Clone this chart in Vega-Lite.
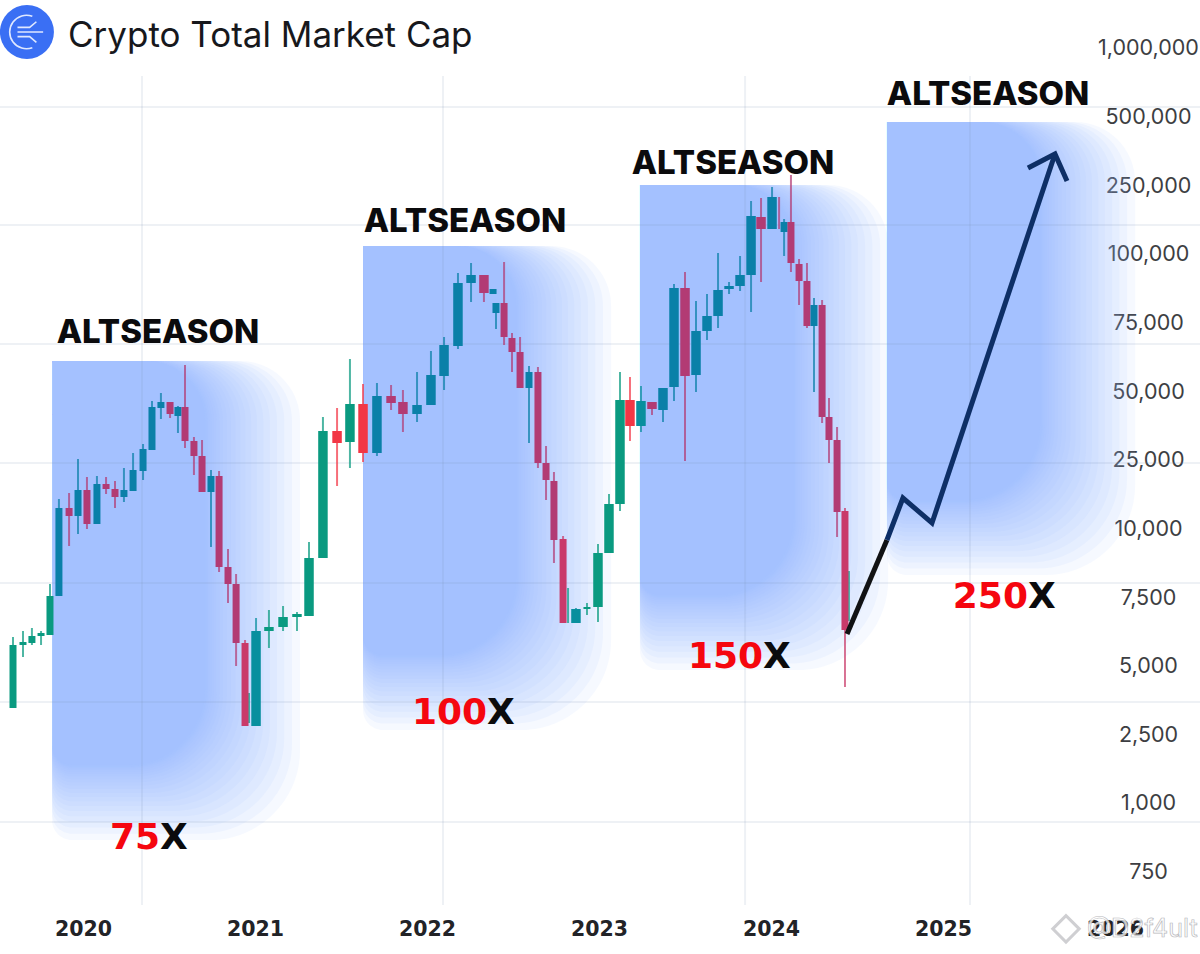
{
  "$schema": "https://vega.github.io/schema/vega-lite/v6.json",
  "width": 1148,
  "height": 905,
  "autosize": "none",
  "padding": {"left": 0, "top": 0, "right": 52, "bottom": 49},
  "background": "#ffffff",
  "config": {"view": {"stroke": null}},
  "title": {
    "text": "Crypto Total Market Cap",
    "anchor": "start",
    "frame": "group",
    "dx": 68,
    "offset": -54,
    "font": "Inter",
    "fontSize": 35,
    "fontWeight": 400,
    "color": "#17181c"
  },
  "datasets": {
    "shade": [
      {"t": 2019.82, "t2": 2021.262, "value": 61240, "value2": 866},
      {"t": 2019.82, "t2": 2021.215, "value": 61240, "value2": 889},
      {"t": 2019.82, "t2": 2021.17, "value": 61240, "value2": 911},
      {"t": 2019.82, "t2": 2021.128, "value": 61240, "value2": 932},
      {"t": 2019.82, "t2": 2021.086, "value": 61240, "value2": 952},
      {"t": 2019.82, "t2": 2021.048, "value": 61240, "value2": 971},
      {"t": 2019.82, "t2": 2021.011, "value": 61240, "value2": 989},
      {"t": 2019.82, "t2": 2020.977, "value": 61240, "value2": 1037},
      {"t": 2019.82, "t2": 2020.944, "value": 61240, "value2": 1134},
      {"t": 2019.82, "t2": 2020.915, "value": 61240, "value2": 1225},
      {"t": 2019.82, "t2": 2020.886, "value": 61240, "value2": 1309},
      {"t": 2019.82, "t2": 2020.86, "value": 61240, "value2": 1388},
      {"t": 2019.82, "t2": 2020.836, "value": 61240, "value2": 1459},
      {"t": 2019.82, "t2": 2020.814, "value": 61240, "value2": 1525},
      {"t": 2019.82, "t2": 2020.794, "value": 61240, "value2": 1585},
      {"t": 2019.82, "t2": 2020.777, "value": 61240, "value2": 1637},
      {"t": 2019.82, "t2": 2020.761, "value": 61240, "value2": 1686},
      {"t": 2019.82, "t2": 2020.747, "value": 61240, "value2": 1726},
      {"t": 2019.82, "t2": 2020.736, "value": 61240, "value2": 1761},
      {"t": 2019.82, "t2": 2020.726, "value": 61240, "value2": 1787},
      {"t": 2019.82, "t2": 2020.719, "value": 61240, "value2": 1810},
      {"t": 2019.82, "t2": 2020.71, "value": 61240, "value2": 1838},
      {"t": 2021.628, "t2": 2023.07, "value": 117640, "value2": 2681},
      {"t": 2021.628, "t2": 2023.023, "value": 117640, "value2": 2913},
      {"t": 2021.628, "t2": 2022.978, "value": 117640, "value2": 3131},
      {"t": 2021.628, "t2": 2022.936, "value": 117640, "value2": 3341},
      {"t": 2021.628, "t2": 2022.894, "value": 117640, "value2": 3544},
      {"t": 2021.628, "t2": 2022.856, "value": 117640, "value2": 3732},
      {"t": 2021.628, "t2": 2022.819, "value": 117640, "value2": 3913},
      {"t": 2021.628, "t2": 2022.785, "value": 117640, "value2": 4083},
      {"t": 2021.628, "t2": 2022.752, "value": 117640, "value2": 4243},
      {"t": 2021.628, "t2": 2022.723, "value": 117640, "value2": 4391},
      {"t": 2021.628, "t2": 2022.694, "value": 117640, "value2": 4529},
      {"t": 2021.628, "t2": 2022.668, "value": 117640, "value2": 4659},
      {"t": 2021.628, "t2": 2022.644, "value": 117640, "value2": 4775},
      {"t": 2021.628, "t2": 2022.622, "value": 117640, "value2": 4884},
      {"t": 2021.628, "t2": 2022.602, "value": 117640, "value2": 4982},
      {"t": 2021.628, "t2": 2022.585, "value": 117640, "value2": 5070},
      {"t": 2021.628, "t2": 2022.569, "value": 117640, "value2": 5151},
      {"t": 2021.628, "t2": 2022.555, "value": 117640, "value2": 5217},
      {"t": 2021.628, "t2": 2022.544, "value": 117640, "value2": 5276},
      {"t": 2021.628, "t2": 2022.534, "value": 117640, "value2": 5320},
      {"t": 2021.628, "t2": 2022.527, "value": 117640, "value2": 5357},
      {"t": 2021.628, "t2": 2022.518, "value": 117640, "value2": 5404},
      {"t": 2023.238, "t2": 2024.681, "value": 253600, "value2": 4855},
      {"t": 2023.238, "t2": 2024.634, "value": 253600, "value2": 5088},
      {"t": 2023.238, "t2": 2024.589, "value": 253600, "value2": 5309},
      {"t": 2023.238, "t2": 2024.547, "value": 253600, "value2": 5522},
      {"t": 2023.238, "t2": 2024.505, "value": 253600, "value2": 5728},
      {"t": 2023.238, "t2": 2024.467, "value": 253600, "value2": 5919},
      {"t": 2023.238, "t2": 2024.43, "value": 253600, "value2": 6103},
      {"t": 2023.238, "t2": 2024.396, "value": 253600, "value2": 6276},
      {"t": 2023.238, "t2": 2024.363, "value": 253600, "value2": 6438},
      {"t": 2023.238, "t2": 2024.334, "value": 253600, "value2": 6588},
      {"t": 2023.238, "t2": 2024.305, "value": 253600, "value2": 6728},
      {"t": 2023.238, "t2": 2024.279, "value": 253600, "value2": 6860},
      {"t": 2023.238, "t2": 2024.255, "value": 253600, "value2": 6978},
      {"t": 2023.238, "t2": 2024.233, "value": 253600, "value2": 7088},
      {"t": 2023.238, "t2": 2024.213, "value": 253600, "value2": 7188},
      {"t": 2023.238, "t2": 2024.196, "value": 253600, "value2": 7276},
      {"t": 2023.238, "t2": 2024.18, "value": 253600, "value2": 7357},
      {"t": 2023.238, "t2": 2024.166, "value": 253600, "value2": 7423},
      {"t": 2023.238, "t2": 2024.155, "value": 253600, "value2": 7482},
      {"t": 2023.238, "t2": 2024.145, "value": 253600, "value2": 7525},
      {"t": 2023.238, "t2": 2024.138, "value": 253600, "value2": 7562},
      {"t": 2023.238, "t2": 2024.129, "value": 253600, "value2": 7609},
      {"t": 2024.674, "t2": 2026.117, "value": 481900, "value2": 8333},
      {"t": 2024.674, "t2": 2026.07, "value": 481900, "value2": 8565},
      {"t": 2024.674, "t2": 2026.025, "value": 481900, "value2": 8783},
      {"t": 2024.674, "t2": 2025.983, "value": 481900, "value2": 8993},
      {"t": 2024.674, "t2": 2025.941, "value": 481900, "value2": 9196},
      {"t": 2024.674, "t2": 2025.903, "value": 481900, "value2": 9384},
      {"t": 2024.674, "t2": 2025.866, "value": 481900, "value2": 9565},
      {"t": 2024.674, "t2": 2025.832, "value": 481900, "value2": 9736},
      {"t": 2024.674, "t2": 2025.799, "value": 481900, "value2": 9895},
      {"t": 2024.674, "t2": 2025.77, "value": 481900, "value2": 10261},
      {"t": 2024.674, "t2": 2025.741, "value": 481900, "value2": 11086},
      {"t": 2024.674, "t2": 2025.715, "value": 481900, "value2": 11869},
      {"t": 2024.674, "t2": 2025.691, "value": 481900, "value2": 12565},
      {"t": 2024.674, "t2": 2025.669, "value": 481900, "value2": 13217},
      {"t": 2024.674, "t2": 2025.649, "value": 481900, "value2": 13804},
      {"t": 2024.674, "t2": 2025.632, "value": 481900, "value2": 14326},
      {"t": 2024.674, "t2": 2025.616, "value": 481900, "value2": 14804},
      {"t": 2024.674, "t2": 2025.602, "value": 481900, "value2": 15195},
      {"t": 2024.674, "t2": 2025.591, "value": 481900, "value2": 15543},
      {"t": 2024.674, "t2": 2025.581, "value": 481900, "value2": 15804},
      {"t": 2024.674, "t2": 2025.574, "value": 481900, "value2": 16021},
      {"t": 2024.674, "t2": 2025.565, "value": 481900, "value2": 16304}
    ],
    "gridH": [
      {"t": 2019.5174, "t2": 2026.495, "value": 572000},
      {"t": 2019.5174, "t2": 2026.495, "value": 164000},
      {"t": 2019.5174, "t2": 2026.495, "value": 67400},
      {"t": 2019.5174, "t2": 2026.495, "value": 24350},
      {"t": 2019.5174, "t2": 2026.495, "value": 8045},
      {"t": 2019.5174, "t2": 2026.495, "value": 3700},
      {"t": 2019.5174, "t2": 2026.495, "value": 931}
    ],
    "gridV": [
      {"t": 2020.343, "value": 649, "value2": 797000},
      {"t": 2022.093, "value": 649, "value2": 797000},
      {"t": 2023.849, "value": 649, "value2": 797000},
      {"t": 2025.157, "value": 649, "value2": 797000}
    ],
    "candles": [
      {"t": 2019.593, "open": 3478, "high": 6066, "low": 3478, "close": 5772, "tone": "green", "w": 7},
      {"t": 2019.651, "open": 5772, "high": 6287, "low": 5331, "close": 5883, "tone": "green", "w": 7},
      {"t": 2019.703, "open": 5846, "high": 6397, "low": 5772, "close": 6103, "tone": "green", "w": 7},
      {"t": 2019.756, "open": 6103, "high": 6287, "low": 5772, "close": 6213, "tone": "green", "w": 7},
      {"t": 2019.808, "open": 6140, "high": 8007, "low": 6140, "close": 7573, "tone": "green", "w": 7},
      {"t": 2019.86, "open": 7573, "high": 16521, "low": 7573, "close": 14565, "tone": "blue", "w": 7},
      {"t": 2019.919, "open": 14565, "high": 17826, "low": 9384, "close": 12826, "tone": "plum", "w": 7},
      {"t": 2019.971, "open": 12826, "high": 25371, "low": 9819, "close": 18478, "tone": "blue", "w": 7},
      {"t": 2020.023, "open": 18478, "high": 21304, "low": 10000, "close": 11086, "tone": "plum", "w": 7},
      {"t": 2020.081, "open": 11086, "high": 21522, "low": 11086, "close": 19782, "tone": "blue", "w": 7},
      {"t": 2020.134, "open": 19782, "high": 21304, "low": 17608, "close": 18695, "tone": "plum", "w": 7},
      {"t": 2020.186, "open": 18695, "high": 20435, "low": 14565, "close": 16956, "tone": "plum", "w": 7},
      {"t": 2020.238, "open": 16956, "high": 23261, "low": 15869, "close": 18478, "tone": "blue", "w": 7},
      {"t": 2020.291, "open": 18261, "high": 27576, "low": 18261, "close": 22826, "tone": "blue", "w": 7},
      {"t": 2020.349, "open": 22609, "high": 30885, "low": 20652, "close": 29047, "tone": "blue", "w": 7},
      {"t": 2020.401, "open": 28679, "high": 46692, "low": 28679, "close": 44486, "tone": "blue", "w": 7},
      {"t": 2020.453, "open": 44118, "high": 49632, "low": 40075, "close": 46324, "tone": "blue", "w": 7},
      {"t": 2020.506, "open": 46324, "high": 46324, "low": 40443, "close": 41913, "tone": "plum", "w": 7},
      {"t": 2020.552, "open": 41178, "high": 44853, "low": 34928, "close": 44486, "tone": "blue", "w": 7},
      {"t": 2020.593, "open": 44486, "high": 59783, "low": 29414, "close": 31988, "tone": "plum", "w": 7},
      {"t": 2020.645, "open": 31988, "high": 33458, "low": 21739, "close": 26470, "tone": "plum", "w": 7},
      {"t": 2020.692, "open": 26470, "high": 32355, "low": 18043, "close": 18043, "tone": "plum", "w": 7},
      {"t": 2020.744, "open": 18043, "high": 22826, "low": 9348, "close": 21522, "tone": "blue", "w": 7},
      {"t": 2020.791, "open": 21522, "high": 22609, "low": 8442, "close": 8623, "tone": "plum", "w": 7},
      {"t": 2020.843, "open": 8623, "high": 9275, "low": 7316, "close": 8007, "tone": "plum", "w": 7},
      {"t": 2020.89, "open": 8007, "high": 8370, "low": 5000, "close": 5846, "tone": "plum", "w": 7},
      {"t": 2020.942, "open": 5846, "high": 5956, "low": 2826, "close": 2826, "tone": "crimson", "w": 7},
      {"t": 2020.965, "open": 2935, "high": 4022, "low": 2935, "close": 2935, "tone": "green", "w": 0},
      {"t": 2021.006, "open": 2826, "high": 6765, "low": 2826, "close": 6287, "tone": "teal", "w": 10},
      {"t": 2021.081, "open": 6287, "high": 7059, "low": 5662, "close": 6434, "tone": "green", "w": 10},
      {"t": 2021.163, "open": 6434, "high": 7206, "low": 6287, "close": 6802, "tone": "green", "w": 10},
      {"t": 2021.244, "open": 6802, "high": 6985, "low": 6287, "close": 6912, "tone": "green", "w": 10},
      {"t": 2021.314, "open": 6838, "high": 9529, "low": 6838, "close": 8949, "tone": "green", "w": 10},
      {"t": 2021.395, "open": 8949, "high": 40810, "low": 8949, "close": 35664, "tone": "green", "w": 10},
      {"t": 2021.477, "open": 35664, "high": 44118, "low": 19348, "close": 31253, "tone": "red", "w": 10},
      {"t": 2021.552, "open": 31620, "high": 61957, "low": 23261, "close": 45589, "tone": "green", "w": 10},
      {"t": 2021.628, "open": 45589, "high": 52900, "low": 24565, "close": 27576, "tone": "red", "w": 10},
      {"t": 2021.709, "open": 27576, "high": 53262, "low": 26470, "close": 48530, "tone": "blue", "w": 10},
      {"t": 2021.791, "open": 48530, "high": 52538, "low": 43383, "close": 45956, "tone": "plum", "w": 10},
      {"t": 2021.86, "open": 46324, "high": 50725, "low": 35296, "close": 41913, "tone": "plum", "w": 10},
      {"t": 2021.942, "open": 41913, "high": 57246, "low": 38972, "close": 45221, "tone": "blue", "w": 10},
      {"t": 2022.023, "open": 45221, "high": 64855, "low": 45221, "close": 56160, "tone": "blue", "w": 10},
      {"t": 2022.099, "open": 55797, "high": 69928, "low": 50725, "close": 67029, "tone": "blue", "w": 10},
      {"t": 2022.18, "open": 66667, "high": 93116, "low": 65580, "close": 89493, "tone": "blue", "w": 10},
      {"t": 2022.256, "open": 89493, "high": 96739, "low": 82610, "close": 92392, "tone": "blue", "w": 10},
      {"t": 2022.331, "open": 92392, "high": 92392, "low": 82610, "close": 85870, "tone": "plum", "w": 10},
      {"t": 2022.384, "open": 85508, "high": 87319, "low": 85508, "close": 87319, "tone": "blue", "w": 7},
      {"t": 2022.401, "open": 78623, "high": 82248, "low": 72826, "close": 82248, "tone": "blue", "w": 7},
      {"t": 2022.448, "open": 82248, "high": 97101, "low": 67029, "close": 69928, "tone": "plum", "w": 7},
      {"t": 2022.494, "open": 69565, "high": 71377, "low": 57246, "close": 64493, "tone": "plum", "w": 7},
      {"t": 2022.541, "open": 64493, "high": 69928, "low": 51449, "close": 51449, "tone": "plum", "w": 7},
      {"t": 2022.593, "open": 51449, "high": 59420, "low": 31253, "close": 57246, "tone": "blue", "w": 7},
      {"t": 2022.645, "open": 57246, "high": 59058, "low": 23261, "close": 24348, "tone": "plum", "w": 7},
      {"t": 2022.692, "open": 24348, "high": 30148, "low": 16304, "close": 20652, "tone": "plum", "w": 7},
      {"t": 2022.738, "open": 20435, "high": 22391, "low": 8768, "close": 9601, "tone": "plum", "w": 7},
      {"t": 2022.791, "open": 9638, "high": 9746, "low": 6581, "close": 6581, "tone": "crimson", "w": 7},
      {"t": 2022.82, "open": 6581, "high": 7862, "low": 6581, "close": 6581, "tone": "green", "w": 0},
      {"t": 2022.866, "open": 6581, "high": 7132, "low": 6581, "close": 7096, "tone": "teal", "w": 10},
      {"t": 2022.93, "open": 7096, "high": 7316, "low": 6875, "close": 7169, "tone": "green", "w": 7},
      {"t": 2022.994, "open": 7169, "high": 9457, "low": 6618, "close": 9130, "tone": "green", "w": 10},
      {"t": 2023.058, "open": 9130, "high": 17608, "low": 9130, "close": 15434, "tone": "green", "w": 10},
      {"t": 2023.122, "open": 15434, "high": 57246, "low": 13913, "close": 47059, "tone": "green", "w": 10},
      {"t": 2023.18, "open": 47059, "high": 55435, "low": 31988, "close": 37500, "tone": "red", "w": 10},
      {"t": 2023.244, "open": 37500, "high": 52175, "low": 35296, "close": 46692, "tone": "teal", "w": 10},
      {"t": 2023.308, "open": 46324, "high": 46324, "low": 41545, "close": 43751, "tone": "plum", "w": 10},
      {"t": 2023.372, "open": 43383, "high": 51449, "low": 38972, "close": 51449, "tone": "blue", "w": 10},
      {"t": 2023.436, "open": 51812, "high": 89131, "low": 46692, "close": 87681, "tone": "blue", "w": 10},
      {"t": 2023.5, "open": 87681, "high": 93478, "low": 24783, "close": 55797, "tone": "plum", "w": 10},
      {"t": 2023.564, "open": 56160, "high": 82972, "low": 50000, "close": 72102, "tone": "blue", "w": 10},
      {"t": 2023.628, "open": 72102, "high": 85508, "low": 68841, "close": 77536, "tone": "blue", "w": 10},
      {"t": 2023.692, "open": 77536, "high": 102198, "low": 73188, "close": 86957, "tone": "blue", "w": 10},
      {"t": 2023.756, "open": 87319, "high": 89855, "low": 85508, "close": 88406, "tone": "blue", "w": 10},
      {"t": 2023.82, "open": 88406, "high": 99275, "low": 86594, "close": 92392, "tone": "blue", "w": 10},
      {"t": 2023.884, "open": 92392, "high": 216910, "low": 78985, "close": 183820, "tone": "blue", "w": 10},
      {"t": 2023.942, "open": 181614, "high": 223528, "low": 89855, "close": 155142, "tone": "plum", "w": 10},
      {"t": 2024.006, "open": 155142, "high": 247794, "low": 155142, "close": 225734, "tone": "blue", "w": 10},
      {"t": 2024.047, "open": 155142, "high": 225734, "low": 155142, "close": 155142, "tone": "plum", "w": 0},
      {"t": 2024.076, "open": 148524, "high": 177202, "low": 99275, "close": 170584, "tone": "blue", "w": 7},
      {"t": 2024.116, "open": 170584, "high": 289853, "low": 93478, "close": 96739, "tone": "plum", "w": 7},
      {"t": 2024.163, "open": 96377, "high": 98188, "low": 81523, "close": 90218, "tone": "plum", "w": 7},
      {"t": 2024.209, "open": 90218, "high": 96739, "low": 73188, "close": 73913, "tone": "plum", "w": 7},
      {"t": 2024.25, "open": 73913, "high": 84059, "low": 50000, "close": 81523, "tone": "blue", "w": 7},
      {"t": 2024.297, "open": 81523, "high": 83334, "low": 38604, "close": 40810, "tone": "plum", "w": 7},
      {"t": 2024.337, "open": 40810, "high": 47794, "low": 24348, "close": 32355, "tone": "plum", "w": 7},
      {"t": 2024.384, "open": 32355, "high": 37134, "low": 9710, "close": 13695, "tone": "plum", "w": 7},
      {"t": 2024.453, "open": 6655, "high": 8478, "low": 6655, "close": 6655, "tone": "green", "w": 0},
      {"t": 2024.43, "open": 13913, "high": 14565, "low": 4239, "close": 6324, "tone": "crimson", "w": 7}
    ],
    "path": [
      {"seg": "start", "tone": "ink", "t": 2024.442, "value": 6177},
      {"seg": "start", "tone": "ink", "t": 2024.674, "value": 9601},
      {"seg": "rise", "tone": "navy", "t": 2024.674, "value": 9601},
      {"seg": "rise", "tone": "navy", "t": 2024.767, "value": 16739},
      {"seg": "rise", "tone": "navy", "t": 2024.936, "value": 11304},
      {"seg": "rise", "tone": "navy", "t": 2025.651, "value": 365900},
      {"seg": "head", "tone": "navy", "t": 2025.494, "value": 315200},
      {"seg": "head", "tone": "navy", "t": 2025.651, "value": 365900},
      {"seg": "head", "tone": "navy", "t": 2025.721, "value": 268100}
    ],
    "season": [
      {"label": "ALTSEASON", "t": 2020.436, "value": 71377},
      {"label": "ALTSEASON", "t": 2022.221, "value": 170584},
      {"label": "ALTSEASON", "t": 2023.779, "value": 329706},
      {"label": "ALTSEASON", "t": 2025.262, "value": 659438}
    ],
    "gain": [
      {"label": "75", "suffix": "X", "t": 2020.448, "value": 873},
      {"label": "100", "suffix": "X", "t": 2022.349, "value": 3297},
      {"label": "150", "suffix": "X", "t": 2023.954, "value": 5331},
      {"label": "250", "suffix": "X", "t": 2025.494, "value": 7536}
    ],
    "logo": [{"t": 2019.674, "value": 1115900}],
    "stamp": [{"label": "@D2f4ult", "t": 2025.837, "value": 576, "tm": 2025.715}]
  },
  "encoding": {
    "x": {
      "field": "t",
      "type": "quantitative",
      "title": null,
      "scale": {"domain": [2019.5174, 2026.1918], "nice": false, "zero": false, "padding": 0},
      "axis": {
        "orient": "bottom",
        "values": [2020, 2021, 2022, 2023, 2024, 2025, 2026],
        "format": "d",
        "grid": false,
        "domain": false,
        "ticks": false,
        "labelPadding": 24,
        "labelFont": "DejaVu Sans",
        "labelFontWeight": "bold",
        "labelFontSize": 20.5,
        "labelColor": "#222327",
        "labelFlush": false,
        "labelBaseline": "middle"
      }
    },
    "y": {
      "field": "value",
      "type": "quantitative",
      "title": null,
      "scale": {
        "type": "linear",
        "domain": [649, 750, 1000, 2500, 5000, 7500, 10000, 25000, 50000, 75000, 100000, 250000, 500000, 1000000, 1347800],
        "range": [905, 872, 803, 735, 666, 598, 529, 460, 392, 323, 254, 186, 117, 48, 0],
        "nice": false,
        "zero": false
      },
      "axis": {
        "orient": "right",
        "values": [750, 1000, 2500, 5000, 7500, 10000, 25000, 50000, 75000, 100000, 250000, 500000, 1000000],
        "format": ",d",
        "grid": false,
        "domain": false,
        "ticks": false,
        "labelPadding": 0,
        "labelAlign": "center",
        "labelFont": "Inter",
        "labelFontSize": 21.5,
        "labelColor": "#3d3e42",
        "labelOverlap": false
      }
    }
  },
  "layer": [
    {
      "data": {"name": "shade"},
      "mark": {
        "type": "rect",
        "fill": "#99bafd",
        "opacity": 0.09,
        "cornerRadiusTopRight": 60,
        "cornerRadiusBottomRight": 90,
        "cornerRadiusBottomLeft": 20
      },
      "encoding": {
        "x2": {"field": "t2"},
        "y2": {"field": "value2"}
      }
    },
    {
      "data": {"name": "gridH"},
      "mark": {"type": "rule", "stroke": "#7f8fb0", "strokeWidth": 2, "opacity": 0.13},
      "encoding": {"x2": {"field": "t2"}}
    },
    {
      "data": {"name": "gridV"},
      "mark": {"type": "rule", "stroke": "#7f8fb0", "strokeWidth": 2, "opacity": 0.13},
      "encoding": {"y2": {"field": "value2"}}
    },
    {
      "data": {"name": "candles"},
      "mark": {"type": "rule", "strokeWidth": 2, "opacity": 0.72},
      "encoding": {
        "y": {"field": "high", "type": "quantitative"},
        "y2": {"field": "low"},
        "color": {
          "field": "tone",
          "type": "nominal",
          "legend": null,
          "scale": {
            "domain": ["green", "teal", "blue", "red", "plum", "crimson", "ink", "navy"],
            "range": ["#0a9a80", "#088f9e", "#0a80a8", "#f23645", "#b23b74", "#c93a6a", "#111214", "#0e2f66"]
          }
        }
      }
    },
    {
      "data": {"name": "candles"},
      "transform": [{"filter": "datum.w == 7"}],
      "mark": {"type": "bar", "size": 7},
      "encoding": {
        "y": {"field": "open", "type": "quantitative"},
        "y2": {"field": "close"},
        "color": {"field": "tone", "type": "nominal", "legend": null}
      }
    },
    {
      "data": {"name": "candles"},
      "transform": [{"filter": "datum.w == 10"}],
      "mark": {"type": "bar", "size": 9.5},
      "encoding": {
        "y": {"field": "open", "type": "quantitative"},
        "y2": {"field": "close"},
        "color": {"field": "tone", "type": "nominal", "legend": null}
      }
    },
    {
      "data": {"name": "path"},
      "mark": {"type": "line", "strokeWidth": 5, "strokeCap": "butt", "strokeJoin": "miter"},
      "encoding": {
        "detail": {"field": "seg"},
        "color": {"field": "tone", "type": "nominal", "legend": null}
      }
    },
    {
      "data": {"name": "season"},
      "mark": {"type": "text", "font": "Inter", "fontWeight": 800, "fontSize": 33, "fill": "#0b0b0d", "baseline": "middle"},
      "encoding": {"text": {"field": "label"}}
    },
    {
      "data": {"name": "gain"},
      "mark": {"type": "text", "font": "DejaVu Sans", "fontWeight": "bold", "fontSize": 36, "fill": "#f5060f", "align": "right", "baseline": "middle"},
      "encoding": {"text": {"field": "label"}}
    },
    {
      "data": {"name": "gain"},
      "mark": {"type": "text", "font": "DejaVu Sans", "fontWeight": "bold", "fontSize": 36, "fill": "#0b0b0d", "align": "left", "baseline": "middle"},
      "encoding": {"text": {"field": "suffix"}}
    },
    {
      "data": {"name": "logo"},
      "mark": {"type": "point", "shape": "circle", "filled": true, "size": 2916, "fill": "#3a6ff4", "opacity": 1}
    },
    {
      "data": {"name": "logo"},
      "mark": {
        "type": "point",
        "shape": "M0.2 -0.58 A0.62 0.62 0 1 0 0.2 0.58 M-0.35 -0.17 L0.1 -0.17 L0.35 -0.38 M-0.35 0 L0.6 0 M-0.35 0.17 L0.1 0.17 L0.35 0.38",
        "filled": false,
        "size": 2916,
        "stroke": "#dfe8ff",
        "strokeWidth": 1.6,
        "opacity": 1
      }
    },
    {
      "data": {"name": "stamp"},
      "mark": {"type": "text", "font": "Inter", "fontSize": 25, "fill": "#ffffff", "fillOpacity": 0.8, "stroke": "#b9b9bd", "strokeWidth": 0.7, "align": "left", "baseline": "middle"},
      "encoding": {"text": {"field": "label"}}
    },
    {
      "data": {"name": "stamp"},
      "mark": {"type": "point", "shape": "diamond", "filled": false, "size": 700, "stroke": "#c4c4c8", "strokeWidth": 3, "opacity": 0.8},
      "encoding": {"x": {"field": "tm", "type": "quantitative"}}
    }
  ],
  "resolve": {"scale": {"color": "shared"}}
}
